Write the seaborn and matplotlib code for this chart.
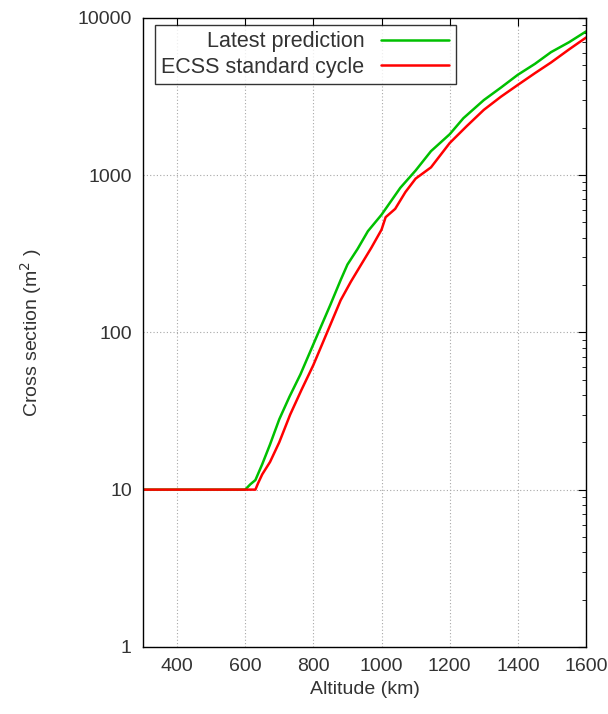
import numpy as np
import pandas as pd
import matplotlib
matplotlib.use("Agg")
import matplotlib.pyplot as plt
import seaborn as sns
from matplotlib.ticker import LogLocator, FixedLocator, NullFormatter

# Altitude (km) and cross section (m^2)
alt_latest = [300, 400, 500, 600, 615, 630, 650, 673, 700, 730, 762, 800, 850,
              880, 900, 930, 960, 1000, 1055, 1100, 1145, 1200, 1240, 1300,
              1350, 1400, 1450, 1497, 1550, 1600]
cs_latest = [10, 10, 10, 10, 10.8, 11.5, 14.5, 19.4, 28, 39, 54, 84, 150,
             215, 270, 340, 440, 560, 830, 1070, 1420, 1820, 2300, 3000,
             3600, 4350, 5100, 6050, 7000, 8200]

alt_ecss = [300, 400, 500, 600, 630, 638, 650, 673, 700, 732, 765, 800, 850,
            880, 910, 938, 970, 1000, 1012, 1040, 1070, 1100, 1145, 1200,
            1250, 1300, 1350, 1400, 1450, 1497, 1550, 1600]
cs_ecss = [10, 10, 10, 10, 10, 11, 12.5, 15, 20, 30, 43, 62, 112,
           160, 210, 265, 345, 450, 540, 610, 780, 950, 1120, 1600,
           2050, 2600, 3150, 3750, 4450, 5200, 6300, 7500]

labels = ["Latest prediction", "ECSS standard cycle"]
palette = {"Latest prediction": "#00c000", "ECSS standard cycle": "#ff0000"}

df = pd.concat([
    pd.DataFrame({"alt": alt_latest, "cs": cs_latest, "series": labels[0]}),
    pd.DataFrame({"alt": alt_ecss, "cs": cs_ecss, "series": labels[1]}),
])

sns.set_style("white")
plt.rcParams["font.family"] = ["Liberation Sans", "DejaVu Sans"]

fig = plt.figure(figsize=(6.08, 7.14), dpi=100)
ax = fig.add_axes([0.235, 0.094, 0.729, 0.881])

sns.lineplot(data=df, x="alt", y="cs", hue="series", palette=palette,
             hue_order=labels, linewidth=1.8, sort=False, estimator=None, ax=ax)

ax.set_yscale("log")
ax.set_xlim(300, 1600)
ax.set_ylim(1, 10000)
ax.xaxis.set_major_locator(FixedLocator([400, 600, 800, 1000, 1200, 1400, 1600]))
ax.yaxis.set_major_locator(FixedLocator([1, 10, 100, 1000, 10000]))
ax.set_yticklabels(["1", "10", "100", "1000", "10000"])
ax.yaxis.set_minor_locator(LogLocator(base=10, subs=np.arange(2, 10)))
ax.yaxis.set_minor_formatter(NullFormatter())

ax.grid(True, which="major", color="#a8a8a8", linestyle=(0, (1, 2)), linewidth=0.8)
for s in ax.spines.values():
    s.set_color("black")
    s.set_linewidth(1.0)
ax.tick_params(which="both", direction="in", top=True, right=True,
               labelsize=14, colors="black", labelcolor="#333333")
ax.tick_params(which="major", length=6, pad=8)
ax.tick_params(which="minor", length=3)

ax.set_xlabel("Altitude (km)", fontsize=14, color="#333333")
ax.set_ylabel("Cross section (m$^2$ )", fontsize=14, color="#333333", labelpad=24)

leg = ax.legend(loc="upper left", bbox_to_anchor=(0.027, 0.989), fontsize=15.5,
                markerfirst=False, frameon=True, fancybox=False,
                handlelength=3.2, borderpad=0.3, labelspacing=0.2,
                handletextpad=0.75, borderaxespad=0)
leg.get_frame().set_edgecolor("black")
leg.get_frame().set_linewidth(1.0)
for t in leg.get_texts():
    t.set_ha("right")
    t.set_color("#333333")
leg._legend_box.align = "right"

fig.savefig("out.png", dpi=100)
